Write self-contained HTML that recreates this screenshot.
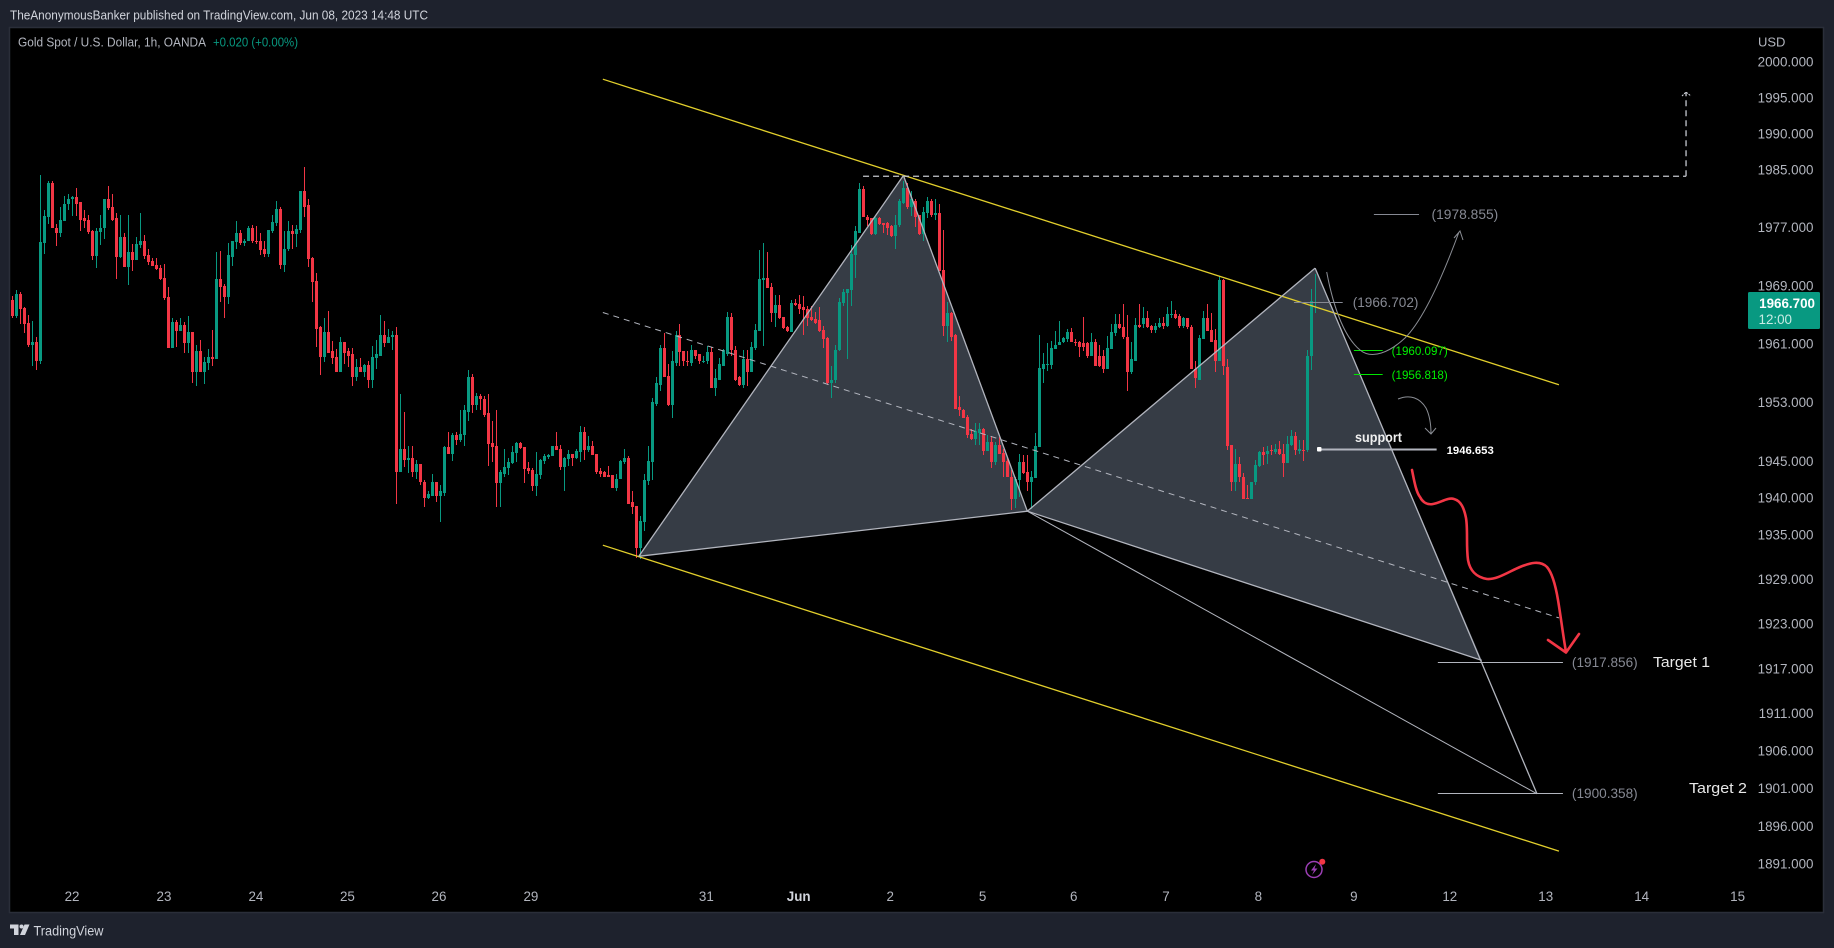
<!DOCTYPE html>
<html lang="en">
<head>
<meta charset="utf-8">
<title>Gold Spot / U.S. Dollar chart</title>
<style>
html,body{margin:0;padding:0;background:#1e222d;width:1834px;height:948px;overflow:hidden}
svg{display:block}
text{font-family:"Liberation Sans",sans-serif}
</style>
</head>
<body>
<svg id="chart" xmlns="http://www.w3.org/2000/svg" width="1834" height="948" viewBox="0 0 1834 948">
  <rect x="0" y="0" width="1834" height="948" fill="#1e222d"/>
  <rect x="9.5" y="27.5" width="1814" height="885" fill="#000" stroke="#2a2e39" stroke-width="1.5"/>
  <text x="10" y="19.5" font-size="13" fill="#d1d4dc" textLength="418" lengthAdjust="spacingAndGlyphs">TheAnonymousBanker published on TradingView.com, Jun 08, 2023 14:48 UTC</text>
  <text x="18" y="46.5" font-size="13" fill="#b2b5be" textLength="188" lengthAdjust="spacingAndGlyphs">Gold Spot / U.S. Dollar, 1h, OANDA</text>
  <text x="213" y="46.5" font-size="13" fill="#089981" textLength="85" lengthAdjust="spacingAndGlyphs">+0.020 (+0.00%)</text>
  <text x="1758" y="46.5" font-size="13" fill="#b2b5be">USD</text>
  <g id="fills"></g>
  <g id="candles"></g>
  <g id="drawings"></g>
  <g id="levels"></g>

  <path d="M1326.7,272 C1332,300 1342,335 1360,350 C1372,360 1390,352 1405,338 C1425,318 1445,270 1459,232 M1454,238 L1460,231 L1463,240" fill="none" stroke="#8a8d94" stroke-width="1"/>
  <path d="M1398,399 C1410,394 1420,398 1426,408 C1430,416 1431,425 1431,434 M1425,428 L1431,434 L1436,428" fill="none" stroke="#8a8d94" stroke-width="1"/>
  <path d="M1412,470 C1414,480 1416,492 1420,497 C1423,503 1428,505 1433,504 C1440,503 1448,497 1454,499 C1461,501 1464,508 1466,518 C1468,530 1466,545 1468,560 C1470,571 1476,577 1487,579 C1497,580 1510,571 1520,567 C1530,563 1540,560 1547,567 C1553,574 1556,588 1558,600 C1561,618 1563,635 1566,652 M1548,640 L1566,652.5 L1579,634" fill="none" stroke="#f23645" stroke-width="2.6" stroke-linecap="round" stroke-linejoin="round"/>
  <path d="M1682,96 L1686,92 L1691,96" fill="none" stroke="#d1d4dc" stroke-width="1" stroke-dasharray="2 1"/>

  <text x="1355" y="442" font-size="13.5" font-weight="bold" fill="#f0f0f0" textLength="47" lengthAdjust="spacingAndGlyphs">support</text>
  <rect x="1317" y="447" width="4.5" height="4.5" rx="1" fill="#fff"/>
  <text x="1653" y="667" font-size="14.5" fill="#e8e8e8" textLength="57" lengthAdjust="spacingAndGlyphs">Target 1</text>
  <text x="1689" y="793" font-size="14.5" fill="#e8e8e8" textLength="58" lengthAdjust="spacingAndGlyphs">Target 2</text>

  <g id="price-axis"></g>
  <g id="time-axis"></g>

  <rect x="1748" y="292" width="72" height="37" rx="1.5" fill="#089981"/>
  <text x="1815" y="308" font-size="13.4" font-weight="bold" fill="#fff" text-anchor="end">1966.700</text>
  <text x="1758.5" y="324" font-size="13.4" fill="#c9ebe4">12:00</text>

  <g>
    <circle cx="1314" cy="869.5" r="8" fill="none" stroke="#9c3fb5" stroke-width="1.5"/>
    <path d="M1316,864 L1311,870.5 L1314,870.5 L1312,875 L1317.5,868.5 L1314.5,868.5 Z" fill="#9c3fb5"/>
    <circle cx="1322.3" cy="861.7" r="3" fill="#f23645"/>
  </g>

  <g>
    <path d="M10,924.5 H18.5 V935 H14 V928.5 H10 Z" fill="#d1d4dc"/>
    <circle cx="21.5" cy="926.5" r="2" fill="#d1d4dc"/>
    <path d="M24.5,924.5 H29.5 L25,935 H20 Z" fill="#d1d4dc"/>
  </g>
  <text x="33.5" y="935.5" font-size="13.5" fill="#d1d4dc" textLength="70" lengthAdjust="spacingAndGlyphs">TradingView</text>
</svg>
<script>
// ---- candle data, USD per ounce, one hourly bar per entry ----
const opens = [
1967.0,1964.8,1967.8,1965.9,1963.8,1960.8,1961.2,1958.6,1974.8,1978.4,
1983.1,1977.0,1976.2,1977.9,1980.2,1980.9,1981.2,1980.5,1978.3,1978.0,
1976.5,1973.1,1976.4,1976.9,1980.9,1979.8,1978.3,1972.9,1975.7,1971.5,
1973.6,1972.5,1974.6,1975.1,1973.2,1972.4,1971.8,1971.4,1970.0,1967.4,
1960.4,1964.0,1962.7,1963.6,1961.1,1962.6,1957.2,1960.0,1957.1,1958.4,
1959.2,1958.9,1969.9,1968.9,1967.4,1973.0,1975.0,1976.3,1974.8,1975.1,
1977.0,1975.2,1975.2,1974.0,1973.3,1976.5,1977.6,1979.6,1971.8,1974.0,
1976.5,1976.1,1976.6,1982.0,1980.1,1972.8,1969.6,1963.3,1959.2,1962.6,
1960.0,1959.2,1957.1,1961.2,1960.0,1959.6,1956.5,1957.8,1957.2,1958.1,
1956.0,1959.0,1959.4,1962.2,1961.1,1961.9,1962.2,1943.5,1946.6,1945.1,
1945.4,1943.5,1944.6,1942.2,1940.0,1940.3,1942.2,1940.3,1940.7,1946.9,
1946.0,1948.6,1947.9,1948.6,1951.7,1956.4,1952.6,1953.8,1953.5,1951.5,
1947.5,1947.0,1942.0,1943.3,1944.0,1944.7,1946.1,1947.5,1946.9,1944.0,
1943.8,1941.6,1943.1,1945.0,1945.5,1945.7,1947.1,1946.6,1944.2,1945.3,
1946.0,1945.4,1946.2,1949.0,1946.5,1947.1,1946.0,1943.6,1943.5,1943.1,
1943.1,1941.4,1942.5,1944.9,1945.4,1939.4,1938.9,1933.2,1936.8,1942.3,
1944.9,1952.8,1955.4,1960.4,1956.6,1952.7,1958.4,1962.2,1960.0,1958.7,
1958.4,1960.2,1959.6,1958.6,1958.6,1959.9,1954.9,1956.1,1958.0,1959.6,
1964.7,1960.2,1956.4,1955.3,1958.9,1957.2,1960.4,1962.7,1969.8,1970.0,
1968.8,1965.2,1966.3,1964.7,1963.3,1962.6,1966.6,1966.4,1966.0,1965.8,
1964.7,1964.4,1964.2,1962.9,1961.8,1955.6,1956.0,1960.1,1966.6,1968.0,
1968.4,1973.2,1976.3,1982.3,1978.5,1978.3,1976.1,1978.3,1977.6,1977.6,
1977.2,1975.8,1977.3,1980.4,1982.5,1979.8,1980.6,1978.7,1976.1,1979.0,
1980.6,1978.7,1979.0,1971.1,1963.5,1965.2,1962.2,1952.3,1952.0,1951.0,
1948.7,1948.0,1948.8,1949.4,1946.4,1947.6,1944.9,1947.2,1946.1,1945.0,
1942.9,1939.8,1942.4,1944.9,1943.5,1942.1,1942.7,1946.9,1957.6,1958.1,
1958.1,1960.3,1960.8,1961.2,1961.6,1962.6,1961.3,1961.2,1961.1,1961.1,
1959.3,1961.3,1959.4,1959.4,1957.5,1960.3,1962.5,1963.7,1963.3,1962.0,
1957.2,1958.7,1963.6,1963.7,1964.6,1963.4,1962.9,1963.3,1963.8,1963.4,
1964.9,1965.1,1964.8,1963.4,1964.6,1963.3,1957.6,1956.1,1961.6,1964.6,
1962.9,1961.5,1958.6,1969.7,1957.8,1947.2,1942.1,1944.6,1942.8,1940.0,
1939.8,1942.1,1944.3,1946.2,1945.9,1946.5,1946.2,1946.6,1945.9,1944.7,
1947.2,1948.4,1946.4,1946.5,1946.5,1959.3,1966.6];
const closes = [
1964.8,1967.8,1965.8,1963.7,1960.8,1961.2,1958.6,1975.0,1978.6,1983.1,
1976.9,1976.2,1978.0,1980.3,1981.0,1981.2,1980.3,1978.1,1977.9,1976.4,
1973.1,1976.5,1977.0,1980.9,1979.7,1978.1,1972.9,1975.7,1971.5,1973.6,
1972.5,1974.7,1975.1,1973.1,1972.2,1971.7,1971.3,1969.9,1967.3,1960.4,
1964.0,1962.7,1963.6,1961.1,1962.6,1957.2,1960.0,1957.1,1958.5,1959.2,
1958.9,1969.9,1968.8,1967.4,1973.2,1975.1,1976.3,1974.8,1975.2,1977.0,
1975.1,1975.1,1973.9,1973.3,1976.6,1977.7,1979.6,1971.8,1974.1,1976.5,
1976.1,1976.8,1982.0,1979.9,1972.6,1969.5,1963.1,1959.2,1962.6,1959.8,
1959.0,1957.1,1961.2,1959.8,1959.4,1956.5,1957.8,1957.2,1958.1,1956.0,
1959.2,1959.6,1962.2,1961.1,1962.0,1962.2,1943.5,1946.6,1945.1,1945.4,
1943.5,1944.6,1942.1,1940.0,1940.5,1942.2,1940.3,1940.9,1946.9,1946.0,
1948.6,1947.9,1948.7,1951.9,1956.4,1952.6,1953.8,1953.4,1951.3,1947.3,
1946.9,1942.0,1943.5,1944.2,1944.9,1946.2,1947.5,1946.8,1943.9,1943.6,
1941.6,1943.2,1945.1,1945.7,1945.8,1947.1,1946.5,1944.2,1945.4,1946.0,
1945.4,1946.4,1949.0,1946.5,1947.1,1945.8,1943.5,1943.3,1942.9,1942.9,
1941.4,1942.6,1945.0,1945.4,1939.2,1938.8,1933.2,1936.9,1942.4,1945.0,
1953.0,1955.6,1960.4,1956.5,1952.7,1958.6,1962.2,1959.9,1958.6,1958.5,
1960.2,1959.4,1958.6,1958.7,1959.9,1954.9,1956.3,1958.2,1960.2,1964.7,
1960.2,1956.1,1955.3,1958.9,1957.2,1960.5,1962.9,1969.9,1970.0,1968.7,
1965.2,1966.3,1964.5,1963.2,1962.7,1966.6,1966.3,1965.8,1965.6,1964.5,
1964.2,1963.9,1962.7,1961.6,1955.6,1956.1,1960.2,1966.7,1968.1,1968.5,
1973.3,1976.5,1982.3,1978.4,1978.0,1976.1,1978.3,1977.5,1977.4,1977.0,
1975.8,1977.4,1980.7,1982.5,1979.8,1980.9,1978.5,1976.1,1979.2,1980.6,
1978.7,1979.0,1971.0,1963.5,1965.2,1962.0,1952.1,1951.9,1950.9,1948.6,
1948.0,1949.1,1949.3,1946.4,1947.6,1944.9,1947.2,1945.9,1944.9,1942.8,
1939.8,1942.5,1944.9,1943.4,1942.1,1942.9,1947.0,1957.7,1958.3,1958.3,
1960.4,1960.9,1961.3,1961.8,1962.6,1961.2,1961.1,1960.5,1960.5,1959.3,
1961.2,1957.9,1957.9,1957.5,1960.4,1962.6,1963.7,1963.2,1961.9,1957.2,
1958.9,1963.6,1963.3,1964.6,1963.3,1962.9,1963.4,1963.8,1963.4,1965.1,
1965.1,1964.6,1963.4,1964.6,1963.3,1957.6,1956.3,1961.8,1964.6,1962.7,
1961.3,1958.6,1969.7,1957.9,1947.1,1942.1,1944.6,1942.8,1939.9,1939.8,
1942.2,1944.4,1946.2,1945.8,1946.4,1946.4,1946.6,1945.9,1944.7,1947.3,
1948.4,1946.5,1946.6,1946.4,1959.4,1966.9,1966.7];
const highs = [
1967.6,1968.4,1968.1,1966.0,1964.9,1964.1,1962.0,1984.3,1979.4,1983.4,
1983.4,1977.5,1979.8,1981.4,1981.6,1981.4,1982.4,1980.5,1979.4,1978.8,
1976.6,1977.0,1978.8,1980.9,1982.7,1981.6,1979.0,1978.7,1976.2,1978.8,
1974.7,1975.7,1979.0,1975.9,1974.0,1972.8,1972.8,1971.8,1971.9,1968.8,
1964.5,1964.3,1964.5,1964.0,1964.8,1962.6,1960.8,1961.5,1959.2,1960.3,
1962.9,1973.6,1973.7,1969.2,1974.8,1975.2,1977.9,1976.6,1975.4,1977.2,
1977.4,1977.2,1976.2,1975.1,1976.6,1978.8,1980.7,1979.9,1976.5,1977.9,
1977.3,1977.4,1982.1,1985.4,1980.9,1973.0,1970.7,1963.4,1964.5,1965.5,
1961.4,1960.3,1962.0,1961.2,1960.4,1960.4,1958.9,1959.0,1958.2,1958.7,
1960.7,1961.5,1965.0,1964.1,1963.0,1962.7,1963.3,1954.2,1951.7,1947.1,
1947.1,1945.2,1944.6,1942.4,1941.0,1943.2,1942.2,1941.7,1947.1,1949.0,
1948.8,1949.0,1951.9,1952.6,1957.4,1956.9,1954.3,1954.1,1953.9,1954.1,
1950.5,1951.9,1943.8,1946.6,1945.4,1947.1,1947.6,1947.6,1946.9,1944.9,
1944.0,1946.2,1945.3,1946.0,1946.0,1947.1,1949.0,1947.2,1945.5,1946.5,
1946.0,1946.6,1949.8,1949.7,1948.4,1947.7,1946.0,1944.0,1943.6,1944.3,
1943.1,1943.2,1945.1,1946.6,1945.7,1940.9,1938.9,1937.6,1943.3,1947.0,
1953.6,1956.4,1960.9,1962.5,1958.3,1960.0,1962.8,1963.7,1960.0,1960.0,
1960.8,1960.2,1959.6,1959.3,1960.7,1960.6,1957.5,1959.0,1960.3,1965.4,
1965.2,1960.7,1956.6,1960.2,1960.2,1961.2,1963.7,1973.9,1974.9,1973.6,
1969.3,1967.7,1967.7,1964.7,1963.5,1967.0,1967.1,1967.7,1967.6,1966.2,
1966.2,1965.3,1966.0,1963.5,1961.9,1958.0,1960.8,1967.3,1968.5,1968.5,
1974.6,1977.2,1983.2,1982.8,1978.8,1978.3,1978.4,1978.5,1977.6,1977.7,
1977.4,1978.8,1980.9,1983.5,1983.2,1982.0,1980.9,1978.7,1979.9,1981.2,
1980.9,1980.9,1980.3,1976.7,1966.7,1965.3,1962.3,1953.8,1952.1,1951.3,
1949.3,1950.2,1950.2,1949.5,1948.6,1948.4,1947.6,1948.3,1946.6,1945.6,
1943.8,1942.8,1946.0,1945.8,1945.8,1943.6,1948.8,1962.2,1959.8,1961.1,
1961.4,1962.7,1964.1,1961.9,1963.0,1963.2,1961.6,1961.4,1964.7,1961.2,
1962.5,1961.6,1960.8,1960.1,1962.1,1963.7,1965.1,1965.1,1966.4,1964.9,
1961.2,1964.5,1966.4,1966.0,1965.5,1963.6,1963.8,1964.6,1964.7,1966.0,
1966.9,1965.6,1965.1,1964.7,1964.6,1963.6,1958.6,1962.2,1965.5,1966.4,
1965.2,1963.0,1970.3,1969.9,1958.9,1947.2,1946.6,1945.6,1943.4,1941.7,
1942.2,1945.1,1946.4,1946.9,1947.1,1947.2,1947.3,1947.7,1947.3,1948.4,
1949.2,1948.9,1947.9,1947.9,1960.1,1968.5,1970.6];
const lows = [
1964.5,1964.5,1963.7,1962.5,1960.5,1957.9,1957.4,1958.2,1973.3,1977.5,
1976.9,1974.4,1975.7,1977.9,1979.4,1978.6,1978.6,1976.5,1976.9,1976.1,
1972.5,1971.4,1974.6,1975.4,1979.4,1977.9,1969.9,1972.8,1971.5,1969.1,
1971.0,1972.5,1974.2,1972.6,1971.8,1971.7,1971.1,1969.8,1967.0,1960.4,
1960.4,1960.5,1962.7,1959.7,1959.7,1955.6,1955.2,1957.1,1955.5,1957.4,
1957.9,1958.9,1966.7,1964.5,1966.4,1971.7,1974.1,1974.6,1974.4,1975.1,
1974.8,1974.7,1973.2,1972.9,1972.9,1976.3,1977.2,1971.3,1970.8,1973.7,
1974.1,1974.3,1976.3,1978.5,1971.5,1966.7,1960.5,1956.8,1958.5,1959.7,
1958.2,1957.1,1957.1,1958.2,1957.8,1955.2,1955.9,1957.1,1956.5,1955.0,
1955.0,1957.6,1959.4,1960.5,1961.1,1960.1,1939.2,1943.5,1944.2,1943.4,
1942.9,1942.6,1941.8,1938.8,1939.8,1940.3,1939.4,1936.7,1940.3,1946.0,
1945.0,1947.2,1947.6,1947.1,1950.5,1951.5,1951.9,1952.0,1951.0,1944.3,
1944.9,1938.8,1938.8,1942.9,1943.1,1944.6,1944.9,1946.6,1942.0,1943.3,
1941.0,1940.3,1942.6,1944.6,1945.3,1945.7,1946.5,1943.8,1940.9,1944.3,
1944.3,1945.3,1944.9,1945.1,1946.2,1945.8,1943.2,1942.8,1942.9,1942.8,
1941.3,1941.0,1942.5,1944.6,1939.2,1937.8,1931.9,1931.8,1935.5,1941.8,
1942.4,1952.5,1954.5,1956.4,1952.5,1950.9,1958.0,1958.0,1958.0,1958.0,
1958.0,1958.9,1958.2,1958.4,1958.3,1954.9,1953.8,1956.0,1958.0,1959.4,
1959.4,1955.9,1955.2,1955.0,1955.2,1957.1,1960.2,1962.7,1960.7,1968.7,
1964.0,1963.3,1964.4,1963.1,1962.6,1962.6,1966.2,1965.1,1962.2,1963.5,
1964.1,1963.7,1962.6,1960.4,1955.3,1953.6,1955.7,1960.0,1966.2,1958.9,
1966.2,1970.0,1976.3,1978.4,1977.2,1975.9,1975.9,1977.4,1976.3,1975.9,
1975.7,1974.1,1977.1,1980.3,1979.5,1978.6,1977.1,1975.9,1975.1,1978.3,
1978.4,1978.0,1971.0,1962.1,1961.2,1961.4,1952.1,1951.2,1950.8,1948.2,
1947.9,1947.2,1947.2,1945.8,1946.4,1944.0,1944.4,1945.9,1942.9,1942.8,
1938.4,1938.6,1940.1,1943.3,1941.0,1938.5,1942.7,1946.9,1955.7,1957.3,
1957.5,1960.3,1960.8,1961.1,1961.3,1961.2,1960.7,1959.2,1960.0,1959.1,
1959.3,1957.9,1957.8,1957.0,1957.5,1960.3,1962.1,1963.0,1961.6,1954.5,
1956.9,1958.6,1963.2,1963.2,1963.2,1962.5,1962.5,1963.2,1963.0,1963.3,
1964.5,1964.4,1963.2,1963.2,1963.0,1957.5,1955.0,1956.1,1961.6,1962.7,
1961.3,1957.2,1958.6,1956.7,1946.5,1940.9,1941.0,1942.1,1939.8,1939.8,
1939.8,1941.7,1944.2,1944.4,1944.6,1945.8,1946.0,1945.8,1942.8,1944.7,
1947.1,1945.8,1946.0,1945.0,1946.2,1957.4,1965.2];

// ---- axis ticks ----
const priceTicks = [2000,1995,1990,1985,1977,1969,1961,1953,1945,1940,1935,1929,1923,1917,1911,1906,1901,1896,1891];
const timeLabels = ["22","23","24","25","26","29","31","Jun","2","5","6","7","8","9","12","13","14","15"];
const timeLabelBars = [14.9,37.9,60.9,83.8,106.7,129.7,173.6,196.7,219.6,242.7,265.5,288.6,311.7,335.6,359.6,383.6,407.6,431.6];

// ---- drawing anchors, as bar index and price ----
const channelBars = [147.7,386.9];
const channelTopPrices = [1997.6,1955.4];
const channelMidPrices = [1965.3,1923.8];
const channelBottomPrices = [1933.6,1892.7];
const breakoutBars = [212.8,418.7,418.7];
const breakoutPrices = [1984.1,1984.1,1995.8];
const pointXBar = 156.7, pointXPrice = 1932.1;
const pointABar = 222.9, pointAPrice = 1984.2;
const pointBBar = 253.9, pointBPrice = 1938.2;
const pointCBar = 325.9, pointCPrice = 1971.4;
const pointDBar = 367.6, pointDPrice = 1918.1;
const pointEBar = 381.4, pointEPrice = 1900.3;

// ---- labelled price levels ----
const levelPrices = [1978.855,1966.702,1960.097,1956.818,1946.653,1917.856,1900.358];
const levelStartBars = [340.6,320.6,335.6,335.6,327.5,356.6,356.6];
const levelEndBars = [351.9,332.8,342.8,342.8,356.3,387.9,387.9];

// ---- axis functions ----
function xPos(bar){ return 12.5 + bar * 3.997; }
function yPos(price){ return 62 + 14311 * Math.log(2000 / price); }

const NS = "http://www.w3.org/2000/svg";
function make(tag, parent, attrs){
  const node = document.createElementNS(NS, tag);
  for (const key in attrs) node.setAttribute(key, attrs[key]);
  parent.appendChild(node);
  return node;
}

// pattern fills, under the candles
const fills = document.getElementById("fills");
const fillLeft = make("polygon", fills, {
  points: [[pointXBar,pointXPrice],[pointABar,pointAPrice],[pointBBar,pointBPrice]].map(p => xPos(p[0]) + "," + yPos(p[1])).join(" "),
  fill: "#363c45"
});


const fillRight = make("polygon", fills, {
  points: [[pointBBar,pointBPrice],[pointCBar,pointCPrice],[pointDBar,pointDPrice]].map(p => xPos(p[0]) + "," + yPos(p[1])).join(" "),
  fill: "#363c45"
});



// candles
const candleGroup = document.getElementById("candles");
for (let i = 0; i < opens.length; i++) {
  const up = closes[i] >= opens[i];
  const color = up ? "#089981" : "#f23645";
  const px = Math.floor(xPos(i));
  const top = Math.round(yPos(Math.max(opens[i], closes[i])));
  const bottom = Math.round(yPos(Math.min(opens[i], closes[i])));
  const hi = Math.round(yPos(highs[i]));
  const lo = Math.round(yPos(lows[i]));
  const g = make("g", candleGroup, {"shape-rendering": "crispEdges", fill: color});
  
  
  make("rect", g, {x: px, y: hi, width: 1, height: Math.max(1, lo - hi)});
  make("rect", g, {x: px - 1, y: top, width: 3, height: Math.max(1, bottom - top)});
}

// channel and pattern lines
const drawings = document.getElementById("drawings");
function segment(b1, p1, b2, p2, stroke, width, dash){
  const attrs = {x1: xPos(b1), y1: yPos(p1), x2: xPos(b2), y2: yPos(p2), stroke: stroke, "stroke-width": width};
  if (dash) attrs["stroke-dasharray"] = dash;
  return make("line", drawings, attrs);
}
const channelTop = segment(channelBars[0], channelTopPrices[0], channelBars[1], channelTopPrices[1], "#e2cf2c", 1.3);


const channelBottom = segment(channelBars[0], channelBottomPrices[0], channelBars[1], channelBottomPrices[1], "#e2cf2c", 1.3);


const channelMid = segment(channelBars[0], channelMidPrices[0], channelBars[1], channelMidPrices[1], "#b2b5be", 1, "6 5");


const breakoutH = segment(breakoutBars[0], breakoutPrices[0], breakoutBars[1], breakoutPrices[1], "#c4c7ce", 1.3, "6 4");


const breakoutV = segment(breakoutBars[1], breakoutPrices[1], breakoutBars[2], breakoutPrices[2], "#c4c7ce", 1.3, "6 4");



const legXA = segment(pointXBar, pointXPrice, pointABar, pointAPrice, "#b2b5be", 1.3);


const legAB = segment(pointABar, pointAPrice, pointBBar, pointBPrice, "#b2b5be", 1.3);


const legBX = segment(pointBBar, pointBPrice, pointXBar, pointXPrice, "#b2b5be", 1.3);


const legBC = segment(pointBBar, pointBPrice, pointCBar, pointCPrice, "#b2b5be", 1.3);


const legDB = segment(pointBBar, pointBPrice, pointDBar, pointDPrice, "#b2b5be", 1.3);


const legCE = segment(pointCBar, pointCPrice, pointEBar, pointEPrice, "#b2b5be", 1.3);


const legBE = segment(pointBBar, pointBPrice, pointEBar, pointEPrice, "#b2b5be", 1);



// price levels: line plus printed value
const levelGroup = document.getElementById("levels");
const levelStrokes = ["#868993","#868993","#00e600","#00e600","#b2b5be","#b2b5be","#b2b5be"];
const levelWidths = [1,1,1,1,2,1,1];
const levelTextColors = ["#868993","#868993","#00f000","#00f000","#ffffff","#868993","#868993"];
const levelFontSizes = [13.8,13.6,11.6,11.6,11.3,13.6,13.6];
const levelFontWeights = ["normal","normal","normal","normal","bold","normal","normal"];
const levelTextGaps = [12.5,10,9,9,10,9,9];
for (let i = 0; i < levelPrices.length; i++) {
  const y = Math.round(yPos(levelPrices[i])) + 0.5;
  const line = make("line", levelGroup, {x1: xPos(levelStartBars[i]), x2: xPos(levelEndBars[i]), y1: y, y2: y, stroke: levelStrokes[i], "stroke-width": levelWidths[i]});
  
  
  const isSupport = levelFontWeights[i] === "bold";
  const label = make("text", levelGroup, {x: xPos(levelEndBars[i]) + levelTextGaps[i], y: y + 4.5, "font-size": levelFontSizes[i], "font-weight": levelFontWeights[i], fill: levelTextColors[i]});
  
  
  label.textContent = isSupport ? levelPrices[i].toFixed(3) : "(" + levelPrices[i].toFixed(3) + ")";
}

// price axis
const priceAxis = document.getElementById("price-axis");
for (let i = 0; i < priceTicks.length; i++) {
  const tick = make("text", priceAxis, {x: 1813.5, y: yPos(priceTicks[i]) + 4.7, "font-size": 13.4, fill: "#b2b5be", "text-anchor": "end"});
  
  
  tick.textContent = priceTicks[i].toFixed(3);
}

// time axis
const timeAxis = document.getElementById("time-axis");
for (let i = 0; i < timeLabels.length; i++) {
  const tick = make("text", timeAxis, {x: xPos(timeLabelBars[i]), y: 901, "font-size": 13.4, fill: timeLabels[i] === "Jun" ? "#d1d4dc" : "#b2b5be", "text-anchor": "middle", "font-weight": timeLabels[i] === "Jun" ? "bold" : "normal"});
  
  
  tick.textContent = timeLabels[i];
}
</script>
</body>
</html>
